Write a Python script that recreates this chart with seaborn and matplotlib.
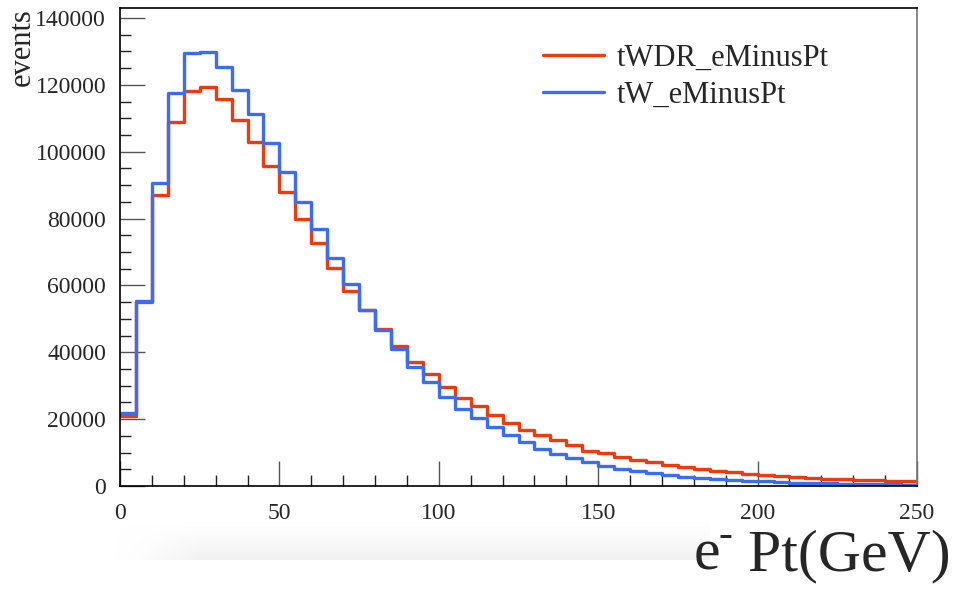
import numpy as np
import pandas as pd
import matplotlib
matplotlib.use("Agg")
import matplotlib.pyplot as plt
from matplotlib.lines import Line2D
from matplotlib.ticker import MultipleLocator
import seaborn as sns

# Histogram data: 50 bins of 5 GeV from 0 to 250
bin_edges = list(range(0, 255, 5))
tWDR_counts = [20940, 55000, 87040, 108970, 118240, 119230, 115650, 109470, 102980, 95800,
               88030, 79760, 72590, 65120, 58420, 52700, 46960, 41960, 37180, 33410,
               29700, 26410, 24020, 21150, 18750, 16750, 15250, 13760, 12260, 10470,
               9780, 8770, 7880, 7080, 6280, 5580, 5080, 4590, 4190, 3690,
               3290, 2990, 2690, 2390, 2190, 2090, 1900, 1800, 1600, 1400]
tW_counts = [21930, 55430, 90720, 117650, 129600, 129900, 125420, 118440, 111270, 102680,
             93820, 85040, 76780, 68340, 60530, 52640, 46660, 40980, 35690, 31000,
             26710, 23030, 20250, 17560, 15160, 13070, 11160, 9570, 8280, 7180,
             6120, 5170, 4590, 3890, 3290, 2790, 2490, 2190, 1900, 1600,
             1400, 1200, 1000, 900, 800, 700, 600, 500, 500, 400]
series_names = ["tWDR_eMinusPt", "tW_eMinusPt"]
series_colors = ["#f03a0c", "#3a6cf5"]

sns.set_style("white")
plt.rcParams["font.family"] = ["Liberation Serif", "DejaVu Serif"]

centers = [e + 2.5 for e in bin_edges[:-1]]
df = pd.DataFrame({
    "pt": centers * 2,
    "count": tWDR_counts + tW_counts,
    "sample": [series_names[0]] * len(centers) + [series_names[1]] * len(centers),
})

fig = plt.figure(figsize=(9.59, 5.90), dpi=100)

# faint shadow band under the axis labels (drawn first, behind everything)
band = fig.add_axes([110 / 959, 30 / 590, 600 / 959, 40 / 590])
gx = np.clip(np.linspace(0, 1, 300) / 0.15, 0, 1) ** 1.5
gy = np.linspace(0, 1, 60) ** 1.3
rgba = np.zeros((60, 300, 4))
rgba[..., :3] = 0.90
rgba[..., 3] = np.outer(gy, gx) * 0.55
band.imshow(rgba, aspect="auto", origin="upper")
band.axis("off")

ax = fig.add_axes([120 / 959, 104 / 590, 797 / 959, 478 / 590])
ax.patch.set_alpha(0)

for name, color in zip(series_names, series_colors):
    sub = df[df["sample"] == name]
    sns.histplot(x=sub["pt"], weights=sub["count"], bins=bin_edges, element="step",
                 fill=False, color=color, linewidth=2.4, ax=ax)

ax.set_xlim(0, 250)
ax.set_ylim(0, 143000)
ax.xaxis.set_major_locator(MultipleLocator(50))
ax.xaxis.set_minor_locator(MultipleLocator(10))
ax.yaxis.set_major_locator(MultipleLocator(20000))
ax.yaxis.set_minor_locator(MultipleLocator(5000))
ax.tick_params(which="both", bottom=True, left=True, top=False, right=False)
ax.tick_params(which="major", direction="in", length=18, width=1, color="#555555",
               labelsize=17, pad=12)
ax.tick_params(which="minor", direction="in", length=8, width=1, color="#222222")
ax.tick_params(axis="y", pad=10)
ax.set_xlabel("")
ax.set_ylabel("")
for side in ["left", "top", "bottom"]:
    ax.spines[side].set_color("black")
    ax.spines[side].set_linewidth(1.2)
ax.spines["right"].set_color("#777777")
ax.spines["right"].set_linewidth(1.2)

handles = [Line2D([0], [0], color=c, linewidth=2.4) for c in series_colors]
ax.legend(handles, series_names, loc="upper left",
          bbox_to_anchor=(543 / 959, 1 - 44 / 590), bbox_transform=fig.transFigure,
          frameon=False, fontsize=22, handlelength=2.0, handletextpad=0.4,
          labelspacing=0.25, borderpad=0, borderaxespad=0)

fig.text(22 / 959, 1 - 8 / 590, "events", rotation=90, ha="center", va="top",
         fontsize=22)

# x-axis title: "e" + raised short hyphen + " Pt(GeV)"
base_y = 20 / 590
t_main = fig.text(0.991, base_y, " Pt(GeV)", ha="right", va="baseline", fontsize=43)
fig.canvas.draw()
x_main = t_main.get_window_extent().x0 / fig.bbox.width
t_sup = fig.text(x_main, base_y + 24 / 590, "-", ha="right", va="baseline", fontsize=30)
fig.canvas.draw()
x_sup = t_sup.get_window_extent().x0 / fig.bbox.width
fig.text(x_sup + 1 / 959, base_y, "e", ha="right", va="baseline", fontsize=43)

fig.text(-0.02, 20 / 590, ")", ha="left", va="baseline", fontsize=42)

fig.savefig("out.png", dpi=100)
